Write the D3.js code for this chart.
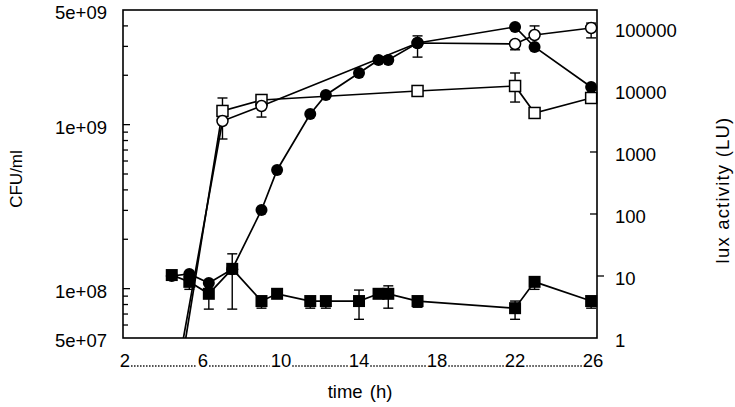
<!DOCTYPE html>
<html>
<head>
<meta charset="utf-8">
<script src="https://cdn.jsdelivr.net/npm/d3@7"></script>
<style>
  body { margin: 0; background: #fff; }
  svg { display: block; }
  text { font-family: "Liberation Sans", Arial, sans-serif; fill: #000; }
</style>
</head>
<body>
<div id="chart"></div>
<script>
/////////////////////////////////////////////////////
///////////////////// Data //////////////////////////
/////////////////////////////////////////////////////

// Filled squares: CFU/ml (left axis)
const sqTime  = [4.4, 5.3, 6.3, 7.5, 9.0, 9.8, 11.5, 12.3, 14, 15, 15.5, 17, 22, 23, 25.9];
const sqValue = [1.21e8, 1.10e8, 9.3e7, 1.32e8, 8.4e7, 9.3e7, 8.4e7, 8.4e7, 8.4e7, 9.3e7, 9.3e7, 8.4e7, 7.6e7, 1.10e8, 8.4e7];
const sqLow   = [1.21e8, 9.9e7, 7.5e7, 7.5e7, 7.6e7, 9.3e7, 7.6e7, 7.6e7, 6.5e7, 9.3e7, 7.6e7, 7.7e7, 6.5e7, 9.9e7, 7.6e7];
const sqHigh  = [1.21e8, 1.10e8, 9.3e7, 1.63e8, 8.4e7, 9.3e7, 8.4e7, 8.4e7, 9.8e7, 9.3e7, 1.04e8, 8.4e7, 8.4e7, 1.10e8, 8.4e7];

// Filled circles: lux activity (right axis)
const ciTime  = [4.4, 5.3, 6.3, 7.5, 9.0, 9.8, 11.5, 12.3, 14, 15, 15.5, 17, 22, 23, 25.9];
const ciValue = [10, 10.8, 7.7, 12.9, 116, 513, 4100, 8300, 18800, 30500, 30500, 57300, 104000, 49400, 11200];

// Open circles: lux activity (right axis)
const ocTime  = [4.4, 7.0, 9.0, 17, 22, 23, 25.9];
const ocValue = [0.09, 3160, 5520, 57300, 55200, 77100, 100000];
const ocLow   = [0.09, 1620, 3660, 33900, 44500, 77100, 69200];
const ocHigh  = [0.09, 3160, 5520, 74600, 55200, 108000, 120000];

// Open squares: lux activity (right axis)
const osTime  = [4.4, 7.0, 9.0, 17, 22, 23, 25.9];
const osValue = [0.04, 4590, 6900, 9640, 11600, 4260, 7430];
const osLow   = [0.04, 4590, 6900, 9640, 6390, 4260, 7430];
const osHigh  = [0.04, 7430, 7990, 9640, 18800, 4260, 7430];

// Axis ticks and labels
const xTicks      = [2, 6, 10, 14, 18, 22, 26];
const leftLabels  = [5e9, 1e9, 1e8, 5e7];
const leftText    = ["5e+09", "1e+09", "1e+08", "5e+07"];
const leftMajor   = [1e9, 1e8];
const leftMinor   = [6e7, 7e7, 8e7, 9e7, 2e8, 3e8, 4e8, 5e8, 6e8, 7e8, 8e8, 9e8, 2e9, 3e9, 4e9];
const rightLabels = [1, 10, 100, 1000, 10000, 100000];

/////////////////////////////////////////////////////
///////////////////// Layout ////////////////////////
/////////////////////////////////////////////////////

const width  = 735;
const height = 407;
const plot = { left: 123, right: 597, top: 10, bottom: 338 };
const fontSize = 18.5;

const svg = d3.select("#chart").append("svg")
  .attr("width", width)
  .attr("height", height);

const x  = d3.scaleLinear().domain([1.9, 26.2]).range([plot.left, plot.right]);
const yL = d3.scaleLog().domain([5e7, 5e9]).range([plot.bottom, plot.top]);
const yR = d3.scaleLog().domain([1, 1.95e5]).range([plot.bottom, plot.top]);

svg.append("clipPath").attr("id", "clip")
  .append("rect")
  .attr("x", plot.left).attr("y", plot.top)
  .attr("width", plot.right - plot.left)
  .attr("height", plot.bottom - plot.top);

/////////////////////////////////////////////////////
///////////////////// Axes //////////////////////////
/////////////////////////////////////////////////////

// frame
svg.append("rect")
  .attr("x", plot.left).attr("y", plot.top)
  .attr("width", plot.right - plot.left)
  .attr("height", plot.bottom - plot.top)
  .attr("fill", "none")
  .attr("stroke", "#000")
  .attr("stroke-width", 1.6);

// left ticks point inward
svg.append("g").selectAll("line")
  .data(leftMajor.map(v => [v, 7]).concat(leftMinor.map(v => [v, 5])))
  .join("line")
  .attr("x1", plot.left).attr("x2", d => plot.left + d[1])
  .attr("y1", d => yL(d[0])).attr("y2", d => yL(d[0]))
  .attr("stroke", "#000").attr("stroke-width", 1.3);

svg.append("g").selectAll("text")
  .data(leftLabels)
  .join("text")
  .attr("x", 107)
  .attr("y", d => yL(d) + 3)
  .attr("dy", "0.35em")
  .attr("text-anchor", "end")
  .style("font-size", fontSize + "px")
  .text((d, i) => leftText[i]);

// right ticks
svg.append("g").selectAll("line")
  .data(rightLabels.slice(1))
  .join("line")
  .attr("x1", plot.right)
  .attr("x2", d => d === 10 ? plot.right + 7 : plot.right - 7)
  .attr("y1", d => yR(d)).attr("y2", d => yR(d))
  .attr("stroke", "#000").attr("stroke-width", 1.3);

svg.append("g").selectAll("text")
  .data(rightLabels)
  .join("text")
  .attr("x", 615)
  .attr("y", d => yR(d) + 2.5)
  .attr("dy", "0.35em")
  .style("font-size", fontSize + "px")
  .text(d => String(d));

// x labels joined by a dotted leader
const xLab = svg.append("g").selectAll("text")
  .data(xTicks)
  .join("text")
  .attr("x", d => x(d))
  .attr("y", 367)
  .attr("text-anchor", "middle")
  .style("font-size", fontSize + "px")
  .text(d => d);

const halfW = xLab.nodes().map(n => n.getComputedTextLength() / 2);
svg.append("g").selectAll("line")
  .data(d3.pairs(d3.range(xTicks.length)))
  .join("line")
  .attr("x1", d => x(xTicks[d[0]]) + halfW[d[0]] + 1)
  .attr("x2", d => x(xTicks[d[1]]) - halfW[d[1]] - 1)
  .attr("y1", 366).attr("y2", 366)
  .attr("stroke", "#000")
  .attr("stroke-width", 1.4)
  .attr("stroke-dasharray", "1.4,1.6");

// axis titles
svg.append("text")
  .attr("x", 360).attr("y", 398)
  .attr("text-anchor", "middle")
  .style("font-size", fontSize + "px")
  .style("word-spacing", "2px")
  .text("time (h)");

svg.append("text")
  .attr("transform", "translate(22,179) rotate(-90)")
  .attr("text-anchor", "middle")
  .style("font-size", "17px")
  .text("CFU/ml");

svg.append("text")
  .attr("transform", "translate(729,190) rotate(-90)")
  .attr("text-anchor", "middle")
  .style("font-size", fontSize + "px")
  .style("letter-spacing", "1.2px")
  .text("lux activity (LU)");

/////////////////////////////////////////////////////
///////////////////// Series ////////////////////////
/////////////////////////////////////////////////////

const plotArea = svg.append("g").attr("clip-path", "url(#clip)");
const marks    = svg.append("g");

function series(times, values) {
  return times.map((t, i) => ({ t: t, v: values[i] }));
}

function drawLine(data, yScale) {
  plotArea.append("path")
    .datum(data)
    .attr("fill", "none")
    .attr("stroke", "#000")
    .attr("stroke-width", 1.7)
    .attr("d", d3.line().x(d => x(d.t)).y(d => yScale(d.v)));
}

function drawErrors(times, values, low, high, yScale) {
  const g = marks.append("g").attr("stroke", "#000").attr("stroke-width", 1.4);
  times.forEach((t, i) => {
    const cx = x(t);
    [low[i], high[i]].forEach(v => {
      if (v < yScale.domain()[0] || v === values[i]) return;
      const yy = yScale(v);
      g.append("line").attr("x1", cx).attr("x2", cx).attr("y1", yScale(values[i])).attr("y2", yy);
      g.append("line").attr("x1", cx - 5).attr("x2", cx + 5).attr("y1", yy).attr("y2", yy);
    });
  });
}

const dSq = series(sqTime, sqValue);
const dCi = series(ciTime, ciValue);
const dOc = series(ocTime, ocValue);
const dOs = series(osTime, osValue);

drawLine(dOs, yR);
drawLine(dOc, yR);
drawLine(dCi, yR);
drawLine(dSq, yL);

drawErrors(osTime, osValue, osLow, osHigh, yR);
drawErrors(ocTime, ocValue, ocLow, ocHigh, yR);
drawErrors(sqTime, sqValue, sqLow, sqHigh, yL);

const visible = (d, yScale) => d.v >= yScale.domain()[0];

// open squares
marks.append("g").selectAll("rect")
  .data(dOs.filter(d => visible(d, yR)))
  .join("rect")
  .attr("x", d => x(d.t) - 5.5).attr("y", d => yR(d.v) - 5.5)
  .attr("width", 11).attr("height", 11)
  .attr("fill", "#fff").attr("stroke", "#000").attr("stroke-width", 1.5);

// open circles
marks.append("g").selectAll("circle")
  .data(dOc.filter(d => visible(d, yR)))
  .join("circle")
  .attr("cx", d => x(d.t)).attr("cy", d => yR(d.v))
  .attr("r", 5.5)
  .attr("fill", "#fff").attr("stroke", "#000").attr("stroke-width", 1.5);

// filled circles
marks.append("g").selectAll("circle")
  .data(dCi)
  .join("circle")
  .attr("cx", d => x(d.t)).attr("cy", d => yR(d.v))
  .attr("r", 6)
  .attr("fill", "#000");

// filled squares
marks.append("g").selectAll("rect")
  .data(dSq)
  .join("rect")
  .attr("x", d => x(d.t) - 6).attr("y", d => yL(d.v) - 6)
  .attr("width", 12).attr("height", 12)
  .attr("fill", "#000");
</script>
</body>
</html>
